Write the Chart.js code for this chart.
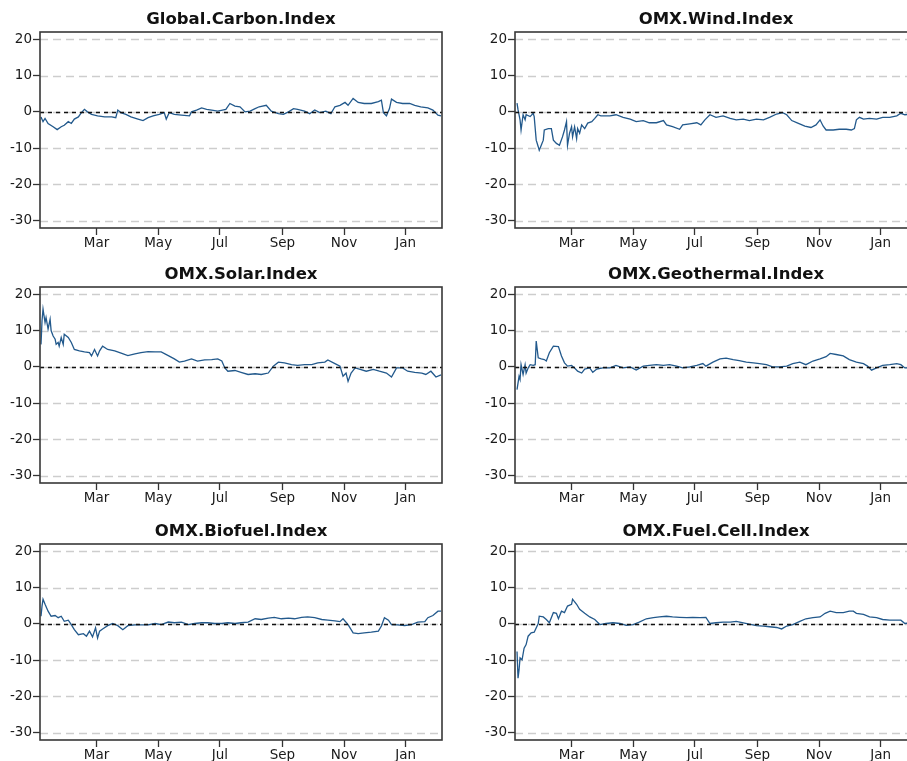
<!DOCTYPE html>
<html>
<head>
<meta charset="utf-8">
<script src="https://cdn.jsdelivr.net/npm/chart.js"></script>
<style>
  html, body { margin: 0; padding: 0; background: #ffffff; overflow: hidden; }
  body { width: 907px; height: 761px; position: relative; }
  canvas { position: absolute; }
</style>
</head>
<body>
<canvas id="c0"></canvas>
<canvas id="c1"></canvas>
<canvas id="c2"></canvas>
<canvas id="c3"></canvas>
<canvas id="c4"></canvas>
<canvas id="c5"></canvas>
<script>
// ---- data: [day of year (Jan 1 = 0), value] ----
const monthTicks = [59, 120, 181, 243, 304, 365];
const monthLabels = ['Mar', 'May', 'Jul', 'Sep', 'Nov', 'Jan'];
const yTicks = [-30, -20, -10, 0, 10, 20];
const titles = ['Global.Carbon.Index', 'OMX.Wind.Index', 'OMX.Solar.Index',
                'OMX.Geothermal.Index', 'OMX.Biofuel.Index', 'OMX.Fuel.Cell.Index'];

const carbon = [[4,-1.4],[6,-2.7],[8,-1.8],[11,-3.2],[16,-4.1],[20,-4.9],[24,-4.1],[27,-3.7],[31,-2.7],[34,-3.2],[37,-2.0],[41,-1.4],[44,-0.2],[47,0.7],[50,0],[54,-0.7],[60,-1.1],[67,-1.4],[74,-1.4],[78,-1.6],[80,0.5],[83,-0.2],[88,-0.7],[93,-1.4],[100,-2.0],[105,-2.4],[110,-1.6],[115,-1.1],[121,-0.7],[126,-0.2],[128,-2.0],[131,-0.2],[136,-0.7],[143,-0.9],[151,-1.1],[153,0],[158,0.5],[163,1.1],[168,0.7],[173,0.5],[179,0.2],[187,0.7],[191,2.3],[196,1.6],[201,1.4],[206,0],[211,0.2],[216,0.9],[220,1.4],[227,1.8],[232,0.2],[239,-0.5],[244,-0.7],[249,0],[254,0.9],[258,0.7],[265,0.2],[270,-0.5],[275,0.5],[280,-0.2],[286,0.2],[291,-0.5],[295,1.4],[300,1.8],[305,2.6],[308,1.8],[313,3.7],[318,2.6],[324,2.3],[331,2.3],[338,2.8],[341,3.2],[343,-0.2],[346,-1.1],[349,0.9],[351,3.5],[356,2.6],[362,2.3],[369,2.3],[374,1.8],[380,1.4],[387,1.1],[392,0.5],[397,-0.9],[400,-1.1]];

const wind = [[5,2.4],[6,0.6],[8,-2.2],[9,-5.0],[11,-0.8],[13,-2.2],[14,-0.8],[18,-1.3],[21,-0.4],[22,-1.3],[24,-7.8],[26,-9.6],[27,-10.6],[29,-9.2],[31,-7.8],[32,-5.0],[36,-4.6],[39,-4.6],[41,-7.8],[44,-8.7],[47,-9.2],[50,-6.9],[52,-5.0],[54,-2.7],[55,-9.2],[57,-5.9],[59,-4.1],[60,-6.9],[62,-4.1],[64,-7.4],[65,-4.6],[67,-5.9],[69,-3.6],[72,-4.6],[75,-3.1],[79,-2.7],[82,-1.8],[85,-0.8],[88,-1.1],[97,-1.1],[103,-0.8],[110,-1.5],[117,-2.0],[123,-2.7],[130,-2.4],[136,-3.0],[143,-3.0],[150,-2.4],[153,-3.6],[159,-4.1],[166,-4.8],[169,-3.6],[176,-3.3],[183,-3.0],[187,-3.6],[191,-2.2],[196,-0.8],[202,-1.5],[209,-1.1],[216,-1.8],[222,-2.2],[229,-2.0],[235,-2.4],[242,-2.0],[249,-2.2],[255,-1.5],[262,-0.6],[268,-0.2],[272,-0.8],[277,-2.4],[283,-3.1],[290,-3.9],[296,-4.3],[301,-3.6],[305,-2.2],[308,-3.9],[311,-5.0],[318,-5.0],[324,-4.8],[331,-4.8],[336,-5.0],[339,-4.6],[341,-2.2],[344,-1.5],[348,-2.0],[354,-1.8],[361,-2.0],[367,-1.5],[374,-1.5],[381,-1.1],[385,-0.4],[389,-0.8],[395,-0.6],[400,-0.9]];

const solar = [[4,6.2],[5,12.7],[6,15.9],[8,12.2],[9,13.6],[11,10.4],[13,13.1],[14,10],[16,8.5],[18,7.6],[19,6.2],[21,6.7],[22,5.7],[24,8.1],[26,6.2],[27,9.0],[31,8.1],[34,6.7],[37,4.8],[42,4.4],[47,4.1],[52,3.9],[54,3.0],[57,4.8],[60,3.0],[62,4.4],[65,5.7],[70,4.8],[77,4.4],[84,3.7],[90,3.1],[97,3.6],[103,3.9],[110,4.2],[117,4.1],[123,4.1],[130,3.1],[136,2.2],[141,1.3],[146,1.6],[153,2.2],[159,1.6],[166,1.9],[173,2.0],[179,2.2],[183,1.6],[186,-0.3],[189,-1.2],[196,-1.0],[202,-1.5],[209,-2.1],[216,-1.9],[222,-2.1],[229,-1.7],[234,0.2],[239,1.3],[245,1.1],[252,0.6],[258,0.4],[265,0.6],[272,0.6],[278,1.1],[285,1.3],[288,1.9],[295,0.9],[300,0.2],[303,-2.6],[306,-1.7],[308,-4.0],[311,-1.7],[315,-0.3],[320,-0.7],[326,-1.2],[333,-0.7],[339,-1.2],[346,-1.7],[351,-2.8],[356,-0.3],[362,-0.3],[367,-1.2],[374,-1.5],[381,-1.7],[385,-2.1],[390,-1.2],[395,-2.8],[400,-2.2]];

const geothermal = [[5,-6.3],[7,-2.6],[8,-3.5],[9,0.6],[11,-2.1],[13,0.6],[14,-1.7],[16,-0.3],[18,0.6],[21,0.4],[23,0.6],[24,7.1],[26,2.5],[29,2.2],[32,2.0],[34,1.6],[37,3.9],[41,5.7],[46,5.6],[49,3.0],[52,1.1],[55,0.2],[59,0.4],[62,-0.3],[65,-1.2],[69,-1.7],[72,-0.6],[77,-0.3],[80,-1.5],[84,-0.6],[90,-0.3],[97,-0.3],[103,0.4],[110,-0.3],[117,0],[123,-0.9],[130,0.2],[136,0.4],[143,0.6],[150,0.4],[156,0.6],[163,0.2],[169,-0.3],[176,0],[183,0.4],[189,0.9],[192,0.2],[199,1.3],[206,2.2],[212,2.4],[219,2.0],[225,1.7],[232,1.3],[239,1.1],[245,0.9],[252,0.6],[258,0],[265,0],[272,0.2],[278,0.9],[285,1.3],[291,0.6],[298,1.6],[305,2.2],[311,2.8],[315,3.7],[321,3.4],[328,3.0],[334,2.0],[341,1.3],[348,0.9],[352,0.2],[356,-0.9],[361,-0.3],[367,0.4],[374,0.6],[381,0.9],[385,0.6],[389,-0.3],[395,-0.2],[400,-0.4]];

const biofuel = [[4,2.1],[5,4.9],[6,6.8],[8,5.4],[11,3.5],[14,2.1],[18,2.3],[21,1.7],[24,2.1],[27,0.7],[31,1.0],[34,-0.2],[37,-1.6],[41,-3.0],[46,-2.7],[49,-3.4],[52,-2.0],[55,-3.6],[58,-1.1],[60,-3.9],[62,-2.0],[65,-1.4],[70,-0.5],[75,0.1],[80,-0.5],[85,-1.6],[90,-0.5],[97,-0.3],[103,-0.3],[110,-0.3],[117,0.1],[123,-0.2],[130,0.5],[136,0.3],[143,0.5],[150,-0.2],[156,0.1],[163,0.3],[169,0.3],[176,0.1],[183,0.1],[189,0.3],[196,0.1],[202,0.3],[209,0.5],[216,1.4],[222,1.2],[229,1.6],[235,1.8],[242,1.4],[249,1.6],[255,1.4],[262,1.8],[268,1.9],[275,1.7],[282,1.2],[288,1.0],[295,0.8],[300,0.6],[303,1.4],[308,-0.2],[313,-2.5],[318,-2.7],[324,-2.5],[331,-2.3],[338,-2.0],[341,-0.6],[344,1.7],[348,1.0],[351,-0.2],[357,-0.3],[364,-0.5],[371,-0.2],[377,0.5],[384,0.6],[387,1.7],[392,2.3],[397,3.5],[400,3.5]];

const fuelcell = [[5,-7.6],[6,-15.0],[7,-12.7],[8,-9.4],[10,-9.9],[12,-6.7],[14,-5.7],[16,-3.4],[19,-2.5],[22,-2.3],[26,0.1],[27,2.1],[31,1.9],[34,1.2],[37,0.3],[41,3.1],[44,2.9],[46,1.4],[49,3.5],[52,3.1],[55,4.9],[59,5.4],[60,6.8],[64,5.4],[67,4.0],[72,2.9],[77,1.9],[82,1.2],[87,-0.2],[93,0.1],[100,0.3],[107,0.1],[113,-0.4],[120,-0.2],[126,0.5],[133,1.4],[140,1.7],[146,1.9],[153,2.1],[159,1.9],[166,1.8],[173,1.7],[179,1.8],[186,1.7],[192,1.8],[196,0.1],[202,0.3],[209,0.5],[216,0.5],[222,0.7],[229,0.3],[235,-0.1],[242,-0.5],[249,-0.6],[255,-0.8],[262,-1.0],[267,-1.4],[272,-0.6],[278,-0.2],[285,0.7],[291,1.4],[298,1.7],[305,1.9],[310,2.9],[315,3.5],[321,3.1],[328,3.1],[334,3.5],[338,3.5],[341,2.9],[348,2.6],[354,1.9],[361,1.7],[367,1.2],[374,1.0],[381,1.0],[385,1.0],[389,0.1],[395,0.3],[400,0.2]];

const seriesList = [carbon, wind, solar, geothermal, biofuel, fuelcell];

// ---- layout of the 6 panels ----
const panelLeft = [0, 453];
const panelWidth = [453, 475];
const axisWidth = [40, 62];
const rowTop = [0, 255, 512];
const panelHeight = 256;

const framePlugin = {
  id: 'frame',
  beforeDatasetsDraw(chart) {
    const {ctx, chartArea: a, scales: {y}} = chart;
    ctx.save();
    ctx.strokeStyle = '#cdcdcd';
    ctx.lineWidth = 1.3;
    ctx.setLineDash([8, 5]);
    yTicks.forEach(v => {
      const py = Math.round(y.getPixelForValue(v)) + 0.5;
      ctx.beginPath();
      ctx.moveTo(a.left, py);
      ctx.lineTo(a.right, py);
      ctx.stroke();
    });
    ctx.restore();
  },
  afterDatasetsDraw(chart) {
    const {ctx, chartArea: a, scales: {y}} = chart;
    const py = Math.round(y.getPixelForValue(0)) + 0.5;
    ctx.save();
    ctx.strokeStyle = '#111111';
    ctx.lineWidth = 1.5;
    ctx.setLineDash([4, 4]);
    ctx.beginPath();
    ctx.moveTo(a.left, py);
    ctx.lineTo(a.right, py);
    ctx.stroke();
    ctx.restore();
  },
  afterDraw(chart) {
    const {ctx, chartArea: a} = chart;
    ctx.save();
    ctx.strokeStyle = '#383838';
    ctx.lineWidth = 1.6;
    ctx.strokeRect(a.left, a.top, a.right - a.left, a.bottom - a.top);
    ctx.restore();
  }
};

const tickFont = {family: 'DejaVu Sans', size: 13.5};

seriesList.forEach((series, i) => {
  const col = i % 2, row = Math.floor(i / 2);
  const cv = document.getElementById('c' + i);
  cv.width = panelWidth[col];
  cv.height = panelHeight;
  cv.style.left = panelLeft[col] + 'px';
  cv.style.top = rowTop[row] + 'px';
  new Chart(cv, {
    type: 'line',
    data: {
      datasets: [{
        data: series.map(p => ({x: p[0], y: p[1]})),
        borderColor: '#22598c',
        borderWidth: 1.3,
        pointRadius: 0,
        tension: 0,
        fill: false
      }]
    },
    options: {
      responsive: false,
      animation: false,
      devicePixelRatio: 1,
      layout: {padding: {left: 0, right: 11, top: 0, bottom: 0}},
      plugins: {
        legend: {display: false},
        tooltip: {enabled: false},
        title: {
          display: true,
          text: titles[i],
          fullSize: false,
          color: '#111111',
          font: {family: 'DejaVu Sans', size: 16.5, weight: 'bold', lineHeight: 1.2},
          padding: {top: 9.6, bottom: 2.6}
        }
      },
      scales: {
        x: {
          type: 'linear',
          min: 3,
          max: 401,
          afterBuildTicks: s => { s.ticks = monthTicks.map(v => ({value: v})); },
          afterFit: s => { s.height = 28; },
          ticks: {
            autoSkip: false,
            maxRotation: 0,
            padding: 0,
            color: '#1a1a1a',
            font: tickFont,
            callback: v => monthLabels[monthTicks.indexOf(v)]
          },
          grid: {drawOnChartArea: false, drawTicks: true, tickLength: 7, tickColor: '#333333', tickWidth: 1.3},
          border: {display: false}
        },
        y: {
          type: 'linear',
          min: -32,
          max: 22,
          afterBuildTicks: s => { s.ticks = yTicks.map(v => ({value: v})); },
          afterFit: s => { s.width = axisWidth[col]; },
          ticks: {
            padding: 1,
            color: '#1a1a1a',
            font: tickFont,
            callback: v => String(v)
          },
          grid: {drawOnChartArea: false, drawTicks: true, tickLength: 7, tickColor: '#333333', tickWidth: 1.3},
          border: {display: false}
        }
      }
    },
    plugins: [framePlugin]
  });
});
</script>
</body>
</html>
